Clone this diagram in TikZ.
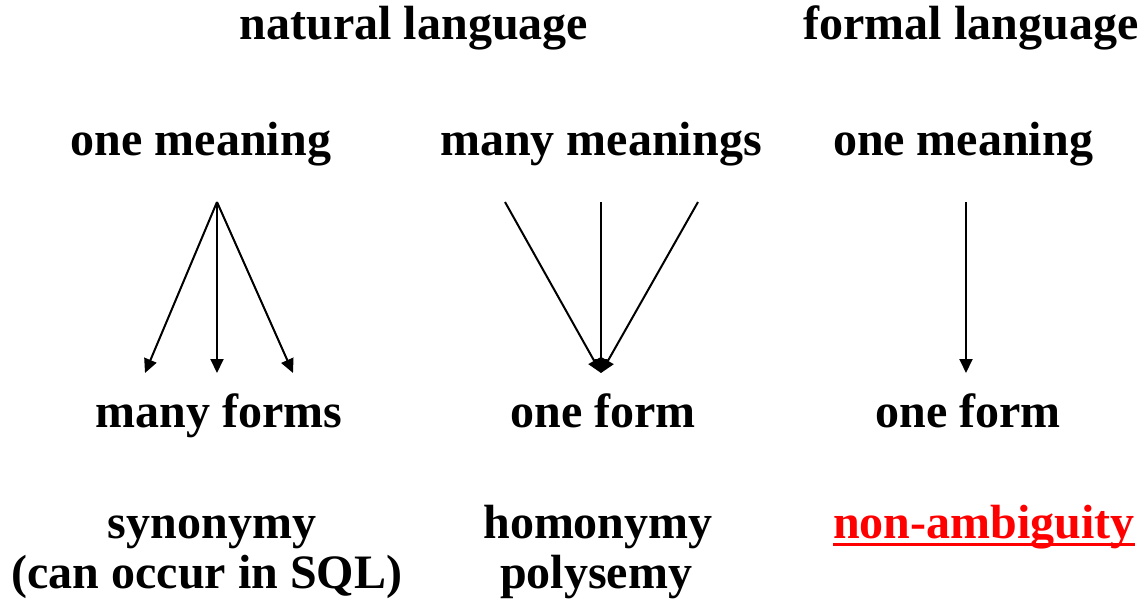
\documentclass[tikz,border=0pt]{standalone}
\usepackage{fontspec}
\setmainfont{Liberation Serif}
\usetikzlibrary{arrows.meta}
\begin{document}
\begin{tikzpicture}[x=1pt,y=-1pt,
  lbl/.style={font=\fontsize{48}{56}\selectfont\bfseries, inner sep=0pt, anchor=base},
  conn/.style={line width=2pt, -{Triangle[length=14pt,width=13pt]}}]
\useasboundingbox (0,0) rectangle (1144,602);
% headings
\node[lbl] (nat) at (414,40) {natural language};
\node[lbl] (form) at (971,40) {formal language};
% meanings
\node[lbl] (m1) at (201,155) {one meaning};
\node[lbl] (m2) at (601,155) {many meanings};
\node[lbl] (m3) at (963,155) {one meaning};
% forms
\node[lbl] (f1) at (219,427) {many forms};
\node[lbl] (f2) at (603,427) {one form};
\node[lbl] (f3) at (968,427) {one form};
% bottom
\node[lbl] (syn) at (212,538) {synonymy};
\node[lbl] (sql) at (207,588) {(can occur in SQL)};
\node[lbl] (hom) at (598,538) {homonymy};
\node[lbl] (pol) at (596,588) {polysemy};
\node[lbl, text=red] (amb) at (984,538) {non-ambiguity};
\draw[red, line width=3pt] ([yshift=-6pt]amb.base west) -- ([yshift=-6pt]amb.base east);
% connector endpoints
\coordinate (a0) at (217,202);
\coordinate (a1) at (145,373);
\coordinate (a2) at (217,373);
\coordinate (a3) at (293,373);
\coordinate (b1) at (505,202);
\coordinate (b2) at (601,202);
\coordinate (b3) at (698,202);
\coordinate (b0) at (601,373);
\coordinate (c0) at (966,202);
\coordinate (c1) at (966,373);
% connectors
\draw[conn] (a0) -- (a1);
\draw[conn] (a0) -- (a2);
\draw[conn] (a0) -- (a3);
\draw[conn] (b1) -- (b0);
\draw[conn] (b2) -- (b0);
\draw[conn] (b3) -- (b0);
\draw[conn] (c0) -- (c1);
\end{tikzpicture}
\end{document}
